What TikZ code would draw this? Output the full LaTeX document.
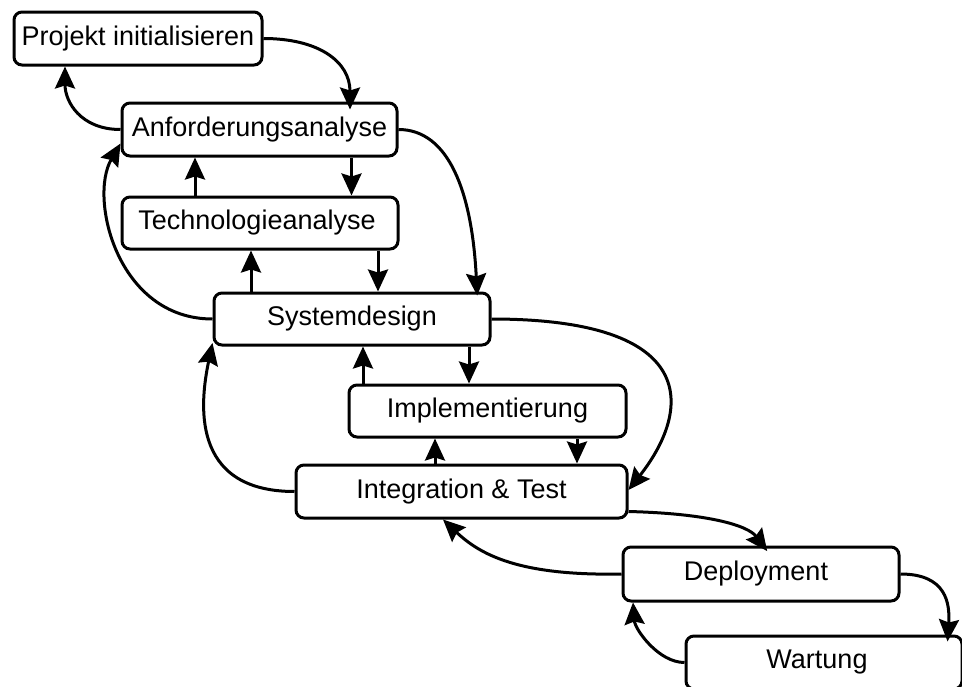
\documentclass[tikz,border=0pt]{standalone}
\usepackage{fontspec}
\setmainfont{Liberation Sans}
\usetikzlibrary{arrows.meta}
\begin{document}
\begin{tikzpicture}[x=1pt,y=1pt,
  phase/.style={draw, line width=3pt, rounded corners=8pt, inner sep=0pt,
    minimum height=53pt, minimum width=276pt, fill=white,
    font=\fontsize{27}{32}\selectfont},
  flow/.style={line width=3pt, -{Stealth[length=22pt,width=20pt,inset=3pt]}}
]
\clip (0,0) rectangle (962,-686);
\fill[white] (0,0) rectangle (962,-686);

% phases
\node[phase, minimum width=248pt] (P) at (138,-38.5) {Projekt initialisieren};
\node[phase, minimum width=275pt] (A) at (259.5,-129.5) {Anforderungsanalyse};
\node[phase, minimum height=52pt] (T) at (260,-223) {\hspace*{-6pt}Technologieanalyse};
\node[phase, minimum height=52pt] (S) at (352,-319) {Systemdesign};
\node[phase, minimum height=52pt, minimum width=277pt] (I) at (487.5,-411) {Implementierung};
\node[phase, minimum width=331pt] (G) at (461.5,-491.5) {Integration \& Test};
\node[phase, minimum height=54pt] (D) at (761,-574) {\hspace*{-10pt}Deployment};
\node[phase] (W) at (824,-662.5) {\hspace*{-14pt}Wartung};

% forward and backward transitions
\draw[flow, shorten >=-8pt] (P.east) .. controls +(55,0) and +(0,40) .. ([xshift=90.5pt]A.north);
\draw[flow] (A.west) .. controls +(-40,0) and +(0,-35) .. ([xshift=-73pt]P.south);

\draw[flow] ([xshift=-65pt]T.north) -- ([xshift=-65pt]T.north |- A.south);
\draw[flow] ([xshift=92pt]A.south) -- ([xshift=92pt]A.south |- T.north);

\draw[flow] ([xshift=-101pt]S.north) -- ([xshift=-101pt]S.north |- T.south);
\draw[flow] ([xshift=118pt]T.south) -- ([xshift=118pt]T.south |- S.north);

\draw[flow, shorten >=-4pt] (A.east) .. controls +(50,0) and +(-5,100) .. ([xshift=125pt]S.north);
\draw[flow] (S.west) .. controls +(-95,0) and +(-32,-55) .. ([yshift=-14pt]A.west);

\draw[flow] ([xshift=-124.5pt]I.north) -- ([xshift=-124.5pt]I.north |- S.south);
\draw[flow] ([xshift=117pt]S.south) -- ([xshift=117pt]S.south |- I.north);

\draw[flow] (S.east) .. controls +(210,0) and +(63,80) .. ([yshift=1.5pt]G.east);
\draw[flow] (G.west) .. controls +(-106,0) and +(-12,-57) .. ([yshift=-24pt]S.west);

\draw[flow] ([xshift=-26.5pt]G.north) -- ([xshift=-26.5pt]G.north |- I.south);
\draw[flow] ([xshift=89.5pt]I.south) -- ([xshift=89.5pt]I.south |- G.north);

\draw[flow, shorten >=-7pt] ([yshift=-20pt]G.east) .. controls +(80,-2) and +(-15,20) .. ([xshift=2pt]D.north);
\draw[flow] (D.west) .. controls +(-103,-2) and +(37,-35) .. ([xshift=-18.5pt]G.south);

\draw[flow, shorten >=-7pt] (D.east) .. controls +(46,0) and +(2,31) .. ([xshift=124pt]W.north);
\draw[flow] (W.west) .. controls +(-26,0) and +(2,-27) .. ([xshift=-128pt]D.south);
\end{tikzpicture}
\end{document}
